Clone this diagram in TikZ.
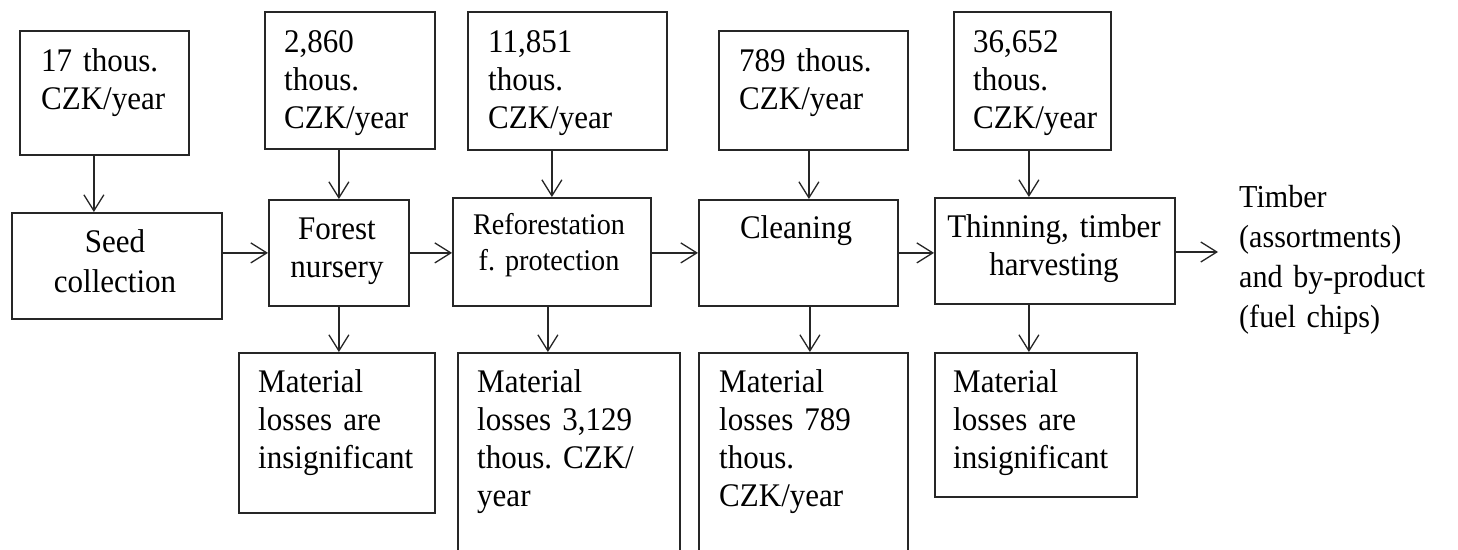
\documentclass[tikz,border=0pt]{standalone}
\usepackage{fontspec}
\setmainfont{Liberation Serif}[WordSpace=0.6, FakeStretch=0.94]
\frenchspacing
\usetikzlibrary{arrows.meta}
\tikzset{
  box/.style={draw=black!85, line width=1.8pt, rectangle, inner sep=0pt, anchor=north west},
  ltxt/.style={inner sep=0pt, anchor=base west, text width=260pt, align=left, font=\fontsize{33}{38}\selectfont},
  ctxt/.style={inner sep=0pt, anchor=base, text width=260pt, align=center, font=\fontsize{33}{38}\selectfont},
  arr/.style={draw=black!85, line width=1.3pt, -{Straight Barb[length=16pt,width=20pt,line width=1.3pt]}}
}
\begin{document}
\begin{tikzpicture}[x=1pt,y=-1pt]
\useasboundingbox (0,0) rectangle (1458,549);
\clip (0,0) rectangle (1458,549);
\fill[white] (0,0) rectangle (1458,549);
% cost boxes
\node[box, minimum width=169pt, minimum height=124pt] (c1) at (19,30) {};
\node[box, minimum width=170pt, minimum height=137pt] (c2) at (264,11) {};
\node[box, minimum width=199pt, minimum height=138pt] (c3) at (467,11) {};
\node[box, minimum width=189pt, minimum height=119pt] (c4) at (718,30) {};
\node[box, minimum width=157pt, minimum height=138pt] (c5) at (953,11) {};
% process boxes
\node[box, minimum width=210pt, minimum height=106pt] (seed) at (11,212) {};
\node[box, minimum width=140pt, minimum height=106pt] (fn) at (268,199) {};
\node[box, minimum width=198pt, minimum height=108pt] (ref) at (452,197) {};
\node[box, minimum width=199pt, minimum height=106pt] (cln) at (698,199) {};
\node[box, minimum width=240pt, minimum height=106pt] (thn) at (934,197) {};
% loss boxes
\node[box, minimum width=196pt, minimum height=160pt] (l1) at (238,352) {};
\node[box, minimum width=222pt, minimum height=230pt] (l2) at (457,352) {};
\node[box, minimum width=209pt, minimum height=230pt] (l3) at (698,352) {};
\node[box, minimum width=202pt, minimum height=144pt] (l4) at (934,352) {};
% texts
\node[ltxt] (c1t) at (41,71) {17 thous.\\CZK/year};
\node[ltxt] (c2t) at (284,52) {2,860\\thous.\\CZK/year};
\node[ltxt] (c3t) at (488,52) {11,851\\thous.\\CZK/year};
\node[ltxt] (c4t) at (739,71) {789 thous.\\CZK/year};
\node[ltxt] (c5t) at (973,52) {36,652\\thous.\\CZK/year};
\node[ctxt, font=\fontsize{33}{40}\selectfont] (seedt) at (115,252) {Seed\\collection};
\node[ctxt] (fnt) at (337,239) {Forest\\nursery};
\node[ctxt, font=\fontsize{30}{36}\selectfont] (reft) at (549,234) {Reforestation\\f. protection};
\node[ctxt] (clnt) at (796,238) {Cleaning};
\node[ctxt] (thnt) at (1054,237) {Thinning, timber\\harvesting};
\node[ltxt] (l1t) at (258,392) {Material\\losses are\\insignificant};
\node[ltxt] (l2t) at (477,392) {Material\\losses 3,129\\thous. CZK/\\year};
\node[ltxt] (l3t) at (719,392) {Material\\losses 789\\thous.\\CZK/year};
\node[ltxt] (l4t) at (953,392) {Material\\losses are\\insignificant};
\node[ltxt, font=\fontsize{32}{40}\selectfont] (out) at (1239,207) {Timber\\(assortments)\\and by-product\\(fuel chips)};
\coordinate (outend) at (1218,252);
% arrows down from cost boxes
\draw[arr] ([xshift=-10.5pt]c1.south) -- ([xshift=-10.5pt]c1.south |- seed.north);
\draw[arr] (c2.south -| fn.north) -- (fn.north);
\draw[arr] (c3.south -| ref.north) -- (ref.north);
\draw[arr] ([xshift=-4.5pt]c4.south) -- ([xshift=-4.5pt]c4.south |- cln.north);
\draw[arr] ([xshift=-3.5pt]c5.south) -- ([xshift=-3.5pt]c5.south |- thn.north);
% horizontal flow
\draw[arr] (seed.east |- fn.west) -- (fn.west);
\draw[arr] (fn.east) -- (fn.east -| ref.west);
\draw[arr] (ref.east |- cln.west) -- (cln.west);
\draw[arr] (cln.east) -- (cln.east -| thn.west);
\draw[arr] (thn.east |- outend) -- (outend);
% arrows down to losses
\draw[arr] (fn.south) -- (fn.south |- l1.north);
\draw[arr] ([xshift=-4pt]ref.south) -- ([xshift=-4pt]ref.south |- l2.north);
\draw[arr] ([xshift=11.5pt]cln.south) -- ([xshift=11.5pt]cln.south |- l3.north);
\draw[arr] ([xshift=-7pt]l4.north |- thn.south) -- ([xshift=-7pt]l4.north);
\end{tikzpicture}
\end{document}
